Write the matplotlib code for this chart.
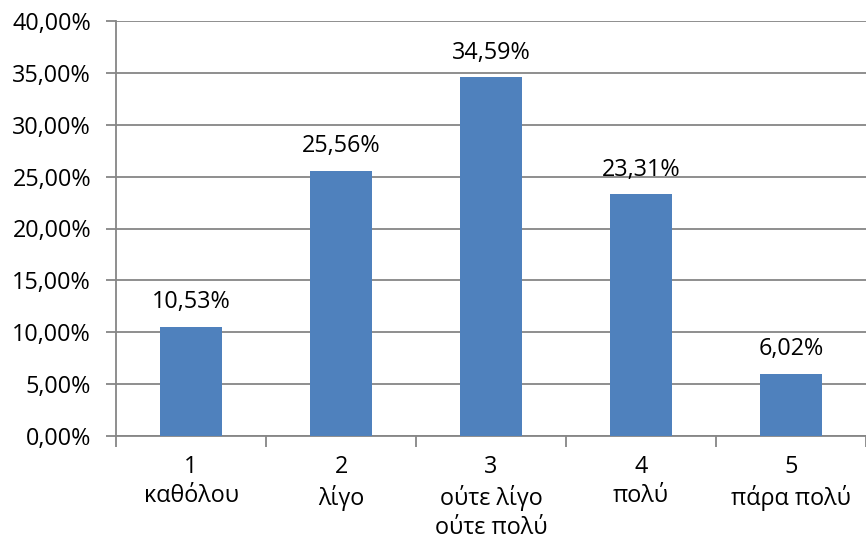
import matplotlib
matplotlib.use("Agg")
import matplotlib.pyplot as plt
from matplotlib.ticker import FuncFormatter, MultipleLocator

plt.rcParams['font.family'] = ['Open Sans', 'DejaVu Sans']

# data
categories = ['1\nκαθόλου', '2\nλίγο', '3\nούτε λίγο\nούτε πολύ', '4\nπολύ', '5\nπάρα πολύ']
values = [10.53, 25.56, 34.59, 23.31, 6.02]

bar_color = '#4F81BD'
grid_color = '#868686'
fs = 16.8

fig = plt.figure(figsize=(8.66, 5.44), dpi=100)
ax = fig.add_axes([116 / 866, 108 / 544, 750 / 866, 415 / 544])

x = list(range(len(values)))
bars = ax.bar(x, values, width=0.41, color=bar_color, zorder=3)

def pct(v):
    return f'{v:.2f}'.replace('.', ',') + '%'

for b, v in zip(bars, values):
    ax.annotate(pct(v), (b.get_x() + b.get_width() / 2, v),
                xytext=(0, 9), textcoords='offset points',
                ha='center', va='bottom', fontsize=fs, color='black')

ax.set_xlim(-0.5, len(values) - 0.5)
ax.set_ylim(0, 40)
ax.yaxis.set_major_locator(MultipleLocator(5))
ax.yaxis.set_major_formatter(FuncFormatter(lambda v, p: pct(v)))
ax.yaxis.grid(True, color=grid_color, linewidth=1.3, zorder=0)

# category ticks between bars, labels centred under bars
ax.set_xticks([i - 0.5 for i in x] + [len(values) - 0.5])
ax.set_xticklabels([])
ax.set_xticks(x, minor=True)
ax.set_xticklabels(categories, minor=True, fontsize=fs, linespacing=1.28)
ax.tick_params(axis='x', which='minor', length=0, pad=14)
ax.tick_params(axis='x', which='major', length=8, width=1.3, color=grid_color)
ax.tick_params(axis='y', length=7, width=1.3, color=grid_color, labelsize=fs, pad=11)

for side in ['top', 'right']:
    ax.spines[side].set_visible(False)
for side in ['left', 'bottom']:
    ax.spines[side].set_color(grid_color)
    ax.spines[side].set_linewidth(1.3)

fig.savefig('out.png', dpi=100)
